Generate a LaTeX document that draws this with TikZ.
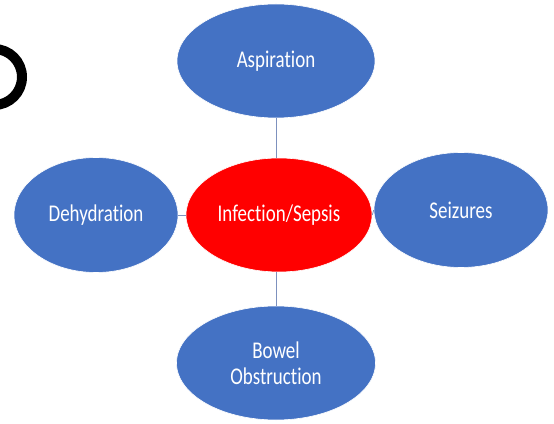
\documentclass[tikz,border=0pt]{standalone}
\usepackage{fontspec}
\setmainfont[Ligatures=NoCommon, FakeStretch=0.79]{Carlito}
\usetikzlibrary{shapes.geometric}
\definecolor{offblue}{RGB}{68,114,196}
\definecolor{linkc}{RGB}{125,145,190}
\tikzset{
  bub/.style={ellipse, fill=offblue, draw=white, line width=0.6pt, text=white, font=\fontsize{24}{26}\selectfont, align=center, inner sep=0pt},
  link/.style={draw=linkc, line width=0.8pt}
}
\begin{document}
\begin{tikzpicture}[x=1pt,y=1pt]
\useasboundingbox (0,0) rectangle (554,423);
\fill[white] (0,0) rectangle (554,423);
% partial ring at top-left
\begin{scope}
\clip (0,0) rectangle (554,423);
\node[circle, draw=black, line width=10pt, minimum size=56pt, inner sep=0pt] (ring) at (-6,346) {};
\end{scope}
\node[bub, minimum width=198pt, minimum height=114pt] (asp) at (276,362) {Aspiration};
\node[bub, fill=red, minimum width=186pt, minimum height=114pt] (inf) at (279,208) {Infection/Sepsis};
\node[bub, minimum width=164pt, minimum height=115pt] (deh) at (96,208) {Dehydration};
\node[bub, minimum width=174pt, minimum height=115pt] (sei) at (461,213) {Seizures};
\node[bub, minimum width=199pt, minimum height=114pt] (bow) at (276,60) {Bowel\\Obstruction};
\draw[link] (asp.south) -- (inf.north -| asp.south);
\draw[link] (inf.south -| bow.north) -- (bow.north);
\draw[link] (deh.east) -- (inf.west);
\draw[link] (inf.east) -- (sei.west);
\end{tikzpicture}
\end{document}
